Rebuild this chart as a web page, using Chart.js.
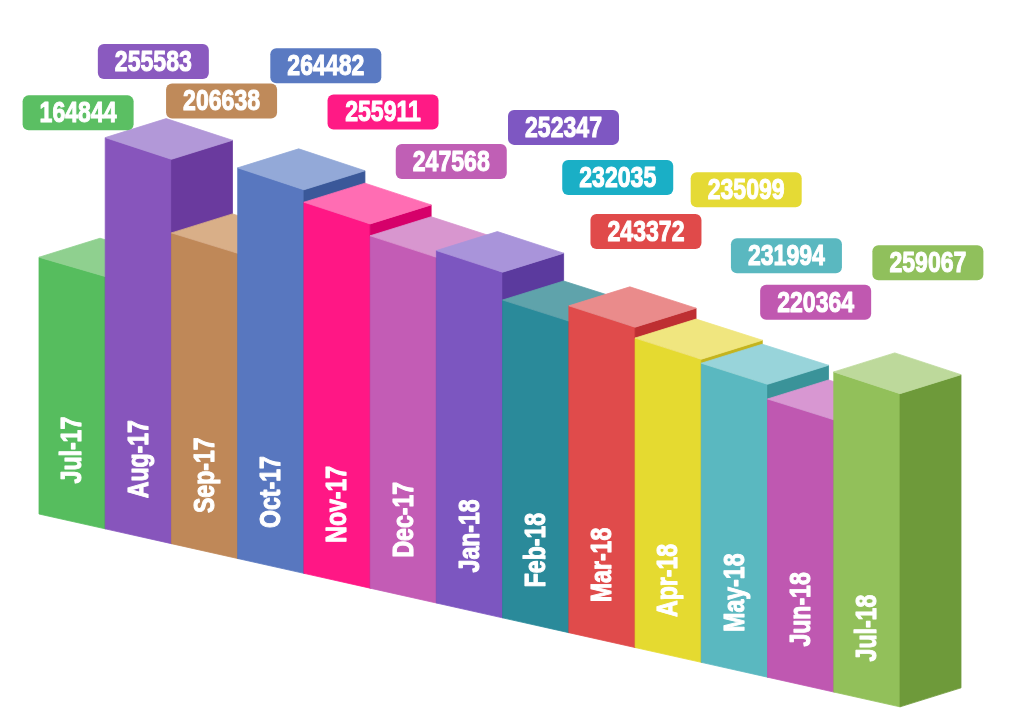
<!DOCTYPE html>
<html>
<head>
<meta charset="utf-8">
<script src="https://cdn.jsdelivr.net/npm/chart.js@4.4.1/dist/chart.umd.min.js"></script>
<style>
  html, body { margin: 0; padding: 0; background: #ffffff; }
  #wrap { width: 1024px; height: 710px; position: relative; }
</style>
</head>
<body>
<div id="wrap"><canvas id="chart"></canvas></div>
<script>
"use strict";

/* ── Datos ─────────────────────────────────────────────────────── */
const months = ["Jul-17", "Aug-17", "Sep-17", "Oct-17", "Nov-17", "Dec-17", "Jan-18",
                "Feb-18", "Mar-18", "Apr-18", "May-18", "Jun-18", "Jul-18"];
const totals = [164844, 255583, 206638, 264482, 255911, 247568, 252347,
                232035, 243372, 235099, 231994, 220364, 259067];

/* ── Colores por barra: frente, tapa, lateral, etiqueta ─────────── */
const frontColors = ["#56bd5e", "#8755bc", "#bf8858", "#5877bf", "#ff1785", "#c35cb5", "#7c56c0",
                     "#2a8a9a", "#e04b4b", "#e5da30", "#5ab8c0", "#bf58b1", "#92c05a"];
const topColors   = ["#8fd08f", "#b298d8", "#d9af88", "#93a9d8", "#ff6db3", "#d896cf", "#a994da",
                     "#5fa3ab", "#ea8b8b", "#f0e67f", "#98d4da", "#d897d2", "#bdd99b"];
const sideColors  = ["#3e9e48", "#6a3a9e", "#9e6a3c", "#3a5899", "#d6006a", "#a0409a", "#5b3a9e",
                     "#1f6b78", "#be2f32", "#c4b41e", "#3a9399", "#a03e95", "#6e9a3a"];
const tagColors   = ["#5bbf63", "#8a5abf", "#bf8a5a", "#5a7ac2", "#ff1a85", "#c05fb5", "#7e57c2",
                     "#1aafc6", "#e04a4a", "#e5da35", "#5ab8c0", "#c058b0", "#90c05c"];

/* ── Colocación de etiquetas (px respecto a la tapa de cada barra) ─ */
const tagShift = [6, 15, 17, 55, 46, 48, 94, 82, 44, 78, 52, 15, 61];
const tagLift  = [154, 87, 142, 113, 101, 85, 134, 133, 85, 159, 118, 107, 120];

/* ── Geometría del efecto 3D ───────────────────────────────────── */
const FLOOR_SLOPE = 0.224;     // caída del suelo hacia la derecha
const SHRINK      = 2.6e-4;    // perspectiva: altura pierde por px
const DEPTH_X     = 61;
const DEPTH_Y     = -19;
const FONT_FAMILY = "'Liberation Sans', Arial, sans-serif";

function poly(ctx, pts, color) {
  ctx.beginPath();
  ctx.moveTo(pts[0][0], pts[0][1]);
  for (let k = 1; k < pts.length; k++) ctx.lineTo(pts[k][0], pts[k][1]);
  ctx.closePath();
  ctx.fillStyle = color;
  ctx.fill();
  ctx.strokeStyle = color;
  ctx.lineWidth = 0.8;
  ctx.stroke();
}

/* Texto blanco algo más grueso (relleno + trazo fino) */
function heavyText(ctx, text) {
  ctx.fillStyle = "#ffffff";
  ctx.strokeStyle = "#ffffff";
  ctx.lineWidth = 1.1;
  ctx.lineJoin = "round";
  ctx.strokeText(text, 0, 0);
  ctx.fillText(text, 0, 0);
}

/* ── Plugin: cajas isométricas + etiquetas ─────────────────────── */
const box3d = {
  id: "box3d",
  afterDatasetsDraw(chart) {
    const { ctx, chartArea } = chart;
    const meta = chart.getDatasetMeta(0);
    const floorAt  = x => chartArea.bottom + FLOOR_SLOPE * (x - chartArea.left);
    const shrinkAt = x => 1 - SHRINK * (x - chartArea.left);

    ctx.save();
    ctx.font = "bold 30px " + FONT_FAMILY;
    // letra estrecha: se comprime en horizontal hasta el ancho del original
    const squeeze = Math.min(1, 77 / ctx.measureText("164844").width);
    const tops = [];

    meta.data.forEach((bar, i) => {
      const h  = bar.base - bar.y;
      const L  = bar.x - bar.width / 2;
      const R  = bar.x + bar.width / 2;
      const bl = floorAt(L), br = floorAt(R);
      const tl = bl - h * shrinkAt(L);
      const tr = br - h * shrinkAt(R);

      poly(ctx, [[L, tl], [R, tr], [R, br], [L, bl]], frontColors[i]);
      poly(ctx, [[R, tr], [R + DEPTH_X, tr + DEPTH_Y], [R + DEPTH_X, br + DEPTH_Y], [R, br]], sideColors[i]);
      poly(ctx, [[L, tl], [R, tr], [R + DEPTH_X, tr + DEPTH_Y], [L + DEPTH_X, tl + DEPTH_Y]], topColors[i]);

      /* Mes en vertical sobre el frente */
      ctx.save();
      ctx.translate(bar.x + 1, floorAt(bar.x) - 38);
      ctx.rotate(-Math.PI / 2);
      ctx.scale(squeeze, 1);
      ctx.textAlign = "left";
      ctx.textBaseline = "middle";
      heavyText(ctx, months[i]);
      ctx.restore();

      tops.push(floorAt(bar.x) - h * shrinkAt(bar.x));
    });

    /* Valores en cajitas redondeadas */
    meta.data.forEach((bar, i) => {
      const cx = bar.x + tagShift[i];
      const cy = tops[i] - tagLift[i];
      const w = 111, hh = 35;
      ctx.beginPath();
      ctx.roundRect(cx - w / 2, cy - hh / 2, w, hh, 6);
      ctx.fillStyle = tagColors[i];
      ctx.fill();

      ctx.save();
      ctx.translate(cx, cy + 1);
      ctx.scale(squeeze, 1);
      ctx.textAlign = "center";
      ctx.textBaseline = "middle";
      heavyText(ctx, String(totals[i]));
      ctx.restore();
    });
    ctx.restore();
  }
};

new Chart(document.getElementById("chart"), {
  type: "bar",
  plugins: [box3d],
  data: {
    labels: months,
    datasets: [{
      data: totals,
      backgroundColor: "rgba(0,0,0,0)",
      borderWidth: 0,
      categoryPercentage: 1,
      barPercentage: 1,
    }]
  },
  options: {
    responsive: true,
    maintainAspectRatio: false,
    animation: false,
    layout: { padding: { left: 39, right: 124, top: 0, bottom: 196 } },
    scales: {
      x: { display: false },
      y: { display: false, min: 0, max: 330000 }
    },
    plugins: {
      legend: { display: false },
      tooltip: { enabled: false }
    }
  }
});
</script>
</body>
</html>
